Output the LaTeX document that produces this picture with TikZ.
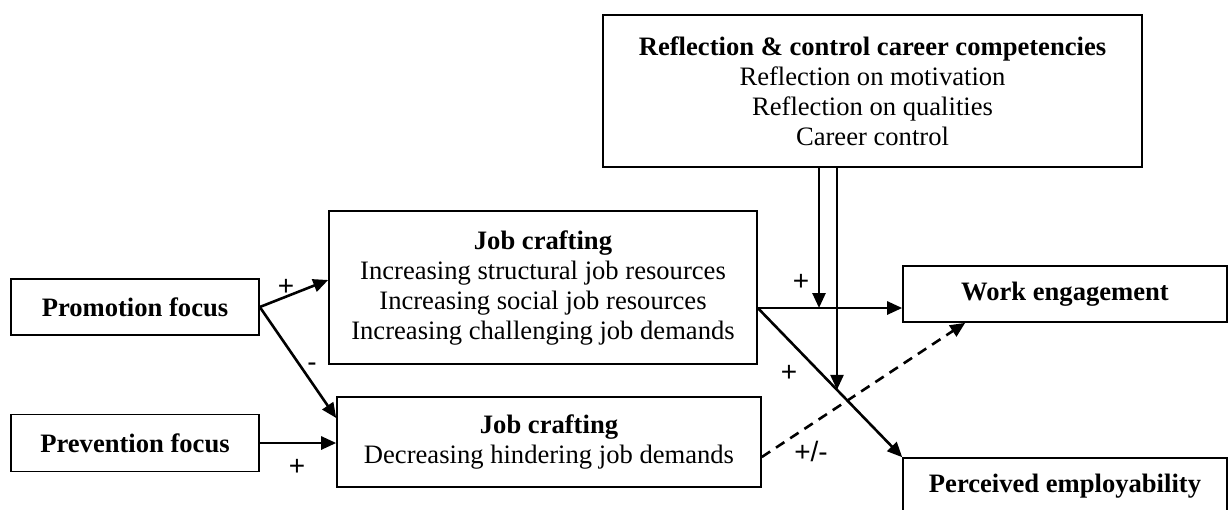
\documentclass[tikz,border=0pt]{standalone}
\usepackage{fontspec}
\setmainfont{Liberation Serif}
\newfontfamily\signfont{Liberation Sans}
\usetikzlibrary{calc}
\usetikzlibrary{intersections}
\usetikzlibrary{arrows.meta}

\tikzset{
  box/.style = {draw, line width = .8pt, inner sep = 0pt, align = center,
    font = \fontsize{13.3}{15}\selectfont},
  arr/.style = {line width = 1.3pt, -{Triangle[length = 7.5pt, width = 6.5pt]}},
  sign/.style = {inner sep = 0pt, font = \signfont\fontsize{14}{16}\selectfont}
}

\begin{document}
\begin{tikzpicture}[x = .5pt, y = -.5pt]
  \useasboundingbox (0, 0) rectangle (1229, 509);

  \node[box, minimum width = 124pt, minimum height = 28pt] (prom) at (135, 307)
    {\textbf{Promotion focus}};
  \node[box, minimum width = 124pt, minimum height = 28.5pt] (prev) at (135, 443)
    {\textbf{Prevention focus}};
  \node[box, minimum width = 214pt, minimum height = 76.5pt] (jc1) at (543, 287.5)
    {\textbf{Job crafting}\\ Increasing structural job resources\\
      Increasing social job resources\\ Increasing challenging job demands};
  \node[box, minimum width = 212pt, minimum height = 45pt] (jc2) at (549, 442)
    {\textbf{Job crafting}\\ Decreasing hindering job demands};
  \node[box, minimum width = 269.5pt, minimum height = 76pt] (refl) at (872.5, 91)
    {\textbf{Reflection \& control career competencies}\\ Reflection on motivation\\
      Reflection on qualities\\ Career control};
  \node[box, minimum width = 162pt, minimum height = 28pt] (we) at (1065, 294)
    {\textbf{Work engagement}};
  \node[box, minimum width = 162pt, minimum height = 28pt] (pe) at (1065, 486)
    {\textbf{Perceived employability}};

  \coordinate (jc1out) at ($(jc1.east) + (0, 20.5)$);
  \coordinate (m1) at ($(refl.south) + (-53.5, 0)$);
  \coordinate (m2) at ($(refl.south) + (-35.5, 0)$);

  \draw[arr] (prom.east) -- ($(jc1.west) + (0, -7.5)$);
  \draw[arr] (prom.east) -- ($(jc2.west) + (0, -24)$);
  \draw[arr] (prev.east) -- (prev.east -| jc2.west);

  \draw[arr] (jc1out) -- (jc1out -| we.west);
  \draw[arr, name path = diag] (jc1out) -- (pe.north west);
  \draw[arr, dash pattern = on 5pt off 3.5pt] ($(jc2.east) + (0, 15)$)
    -- ($(we.south west) + (63, 0)$);

  \path[name path = down] (m2) -- +(0, 300);
  \path[name intersections = {of = down and diag}];
  \coordinate (hit) at (intersection-1);

  \draw[arr] (m1) -- (m1 |- jc1out);
  \draw[arr] (m2) -- (hit);

  \node[sign] (s1) at (286, 287) {+};
  \node[sign] (s2) at (312, 367) {-};
  \node[sign] (s3) at (297, 467) {+};
  \node[sign] (s4) at (801, 282) {+};
  \node[sign] (s5) at (789, 373) {+};
  \node[sign] (s6) at (811, 451) {+/-};
\end{tikzpicture}
\end{document}
